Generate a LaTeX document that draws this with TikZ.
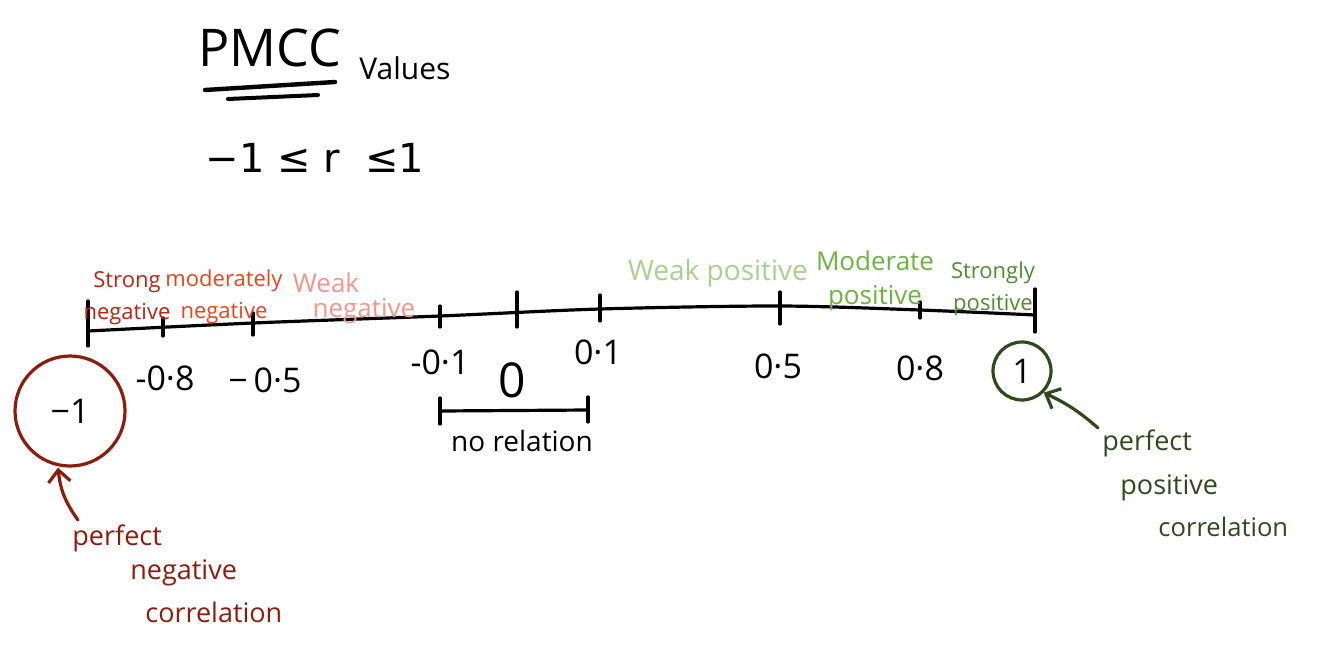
\documentclass[tikz,border=0pt]{standalone}
\usepackage{fontspec}
\setmainfont{Open Sans}
\newfontfamily\symfont{DejaVu Sans}
\usetikzlibrary{arrows.meta}
\definecolor{sneg}{HTML}{B8260F}
\definecolor{mneg}{HTML}{E8451C}
\definecolor{wneg}{HTML}{F2968A}
\definecolor{wpos}{HTML}{A9D18E}
\definecolor{mpos}{HTML}{6DB33F}
\definecolor{spos}{HTML}{4E8C2C}
\definecolor{pneg}{HTML}{8E1C0C}
\definecolor{ppos}{HTML}{2E4A1C}
\tikzset{
  ink/.style={line width=1.6pt, line cap=round, line join=round},
  lbl/.style={inner sep=0pt, align=center, font=\fontsize{11}{16}\selectfont},
  num/.style={inner sep=0pt, font=\fontsize{17}{17}\selectfont},
  big/.style={inner sep=0pt, anchor=west, font=\fontsize{13.5}{16}\selectfont},
  tip/.style={-{Straight Barb[length=6pt,width=11pt]}},
}
\begin{document}
\begin{tikzpicture}[x=0.5pt,y=-0.5pt]
\useasboundingbox (0,0) rectangle (1334,659);
% title
\node[inner sep=0pt, font=\fontsize{26}{26}\selectfont] (pmcc) at (270,48) {PMCC};
\node[inner sep=0pt, font=\fontsize{15}{15}\selectfont] (vals) at (405,68) {Values};
\coordinate (u1a) at (205,90); \coordinate (u1b) at (335,82);
\coordinate (u2a) at (228,99); \coordinate (u2b) at (318,95);
\draw[ink, line width=2.2pt] (u1a) -- (u1b);
\draw[ink, line width=2pt] (u2a) -- (u2b);
\node[inner sep=0pt, font=\symfont\fontsize{20}{20}\selectfont] (ineq) at (315,158) {−1 ≤ r \ ≤1};
% main line
\coordinate (t0) at (88,331);
\coordinate (t1) at (163,327);
\coordinate (t2) at (253,323);
\coordinate (t3) at (440,316);
\coordinate (t4) at (517,312);
\coordinate (t5) at (600,309);
\coordinate (t6) at (780,306);
\coordinate (t7) at (920,310);
\coordinate (t8) at (1035,315);
\draw[ink] plot[smooth] coordinates {(t0) (t2) (t3) (t5) (t6) (t7) (t8)};
\draw[ink] ([shift={(0,15)}]t0) -- ([shift={(0,-30)}]t0);
\draw[ink] ([shift={(0,9)}]t1) -- ([shift={(0,-9)}]t1);
\draw[ink] ([shift={(0,12)}]t2) -- ([shift={(0,-10)}]t2);
\draw[ink] ([shift={(0,11)}]t3) -- ([shift={(0,-10)}]t3);
\draw[ink] ([shift={(0,15)}]t4) -- ([shift={(0,-20)}]t4);
\draw[ink] ([shift={(0,12)}]t5) -- ([shift={(0,-14)}]t5);
\draw[ink] ([shift={(0,18)}]t6) -- ([shift={(0,-14)}]t6);
\draw[ink] ([shift={(0,8)}]t7) -- ([shift={(0,-8)}]t7);
\draw[ink] ([shift={(0,17)}]t8) -- ([shift={(0,-26)}]t8);
% category labels
\node[lbl, text=sneg] (sn) at (127,298) {Strong\\negative};
\node[lbl, text=mneg] (mn) at (224,297) {moderately\\negative};
\node[lbl, text=wneg, font=\fontsize{13}{14}\selectfont] (wn1) at (326,283) {Weak};
\node[lbl, text=wneg, font=\fontsize{13}{14}\selectfont] (wn2) at (364,311) {negative};
\node[lbl, text=wpos, font=\fontsize{14}{14}\selectfont] (wp) at (718,273) {Weak positive};
\node[lbl, text=mpos, font=\fontsize{13}{17}\selectfont] (mp) at (875,281) {Moderate\\positive};
\node[lbl, text=spos] (sp) at (993,289) {Strongly\\positive};
% numbers
\node[num] (n1) at (165,378) {-0·8};
\node[num] (n2) at (265,380) {−\,0·5};
\node[num] (n3) at (440,362) {-0·1};
\node[num, font=\fontsize{24}{24}\selectfont] (n4) at (512,380) {0};
\node[num] (n5) at (598,352) {0·1};
\node[num] (n6) at (778,366) {0·5};
\node[num] (n7) at (920,368) {0·8};
\node[num, circle, draw=ppos, line width=1.6pt, minimum size=29pt] (one) at (1022,371) {1};
\node[num, circle, draw=pneg, line width=1.6pt, minimum size=55pt] (mone) at (70,411) {−1};
% no relation bracket
\coordinate (b1) at (440,411);
\coordinate (b2) at (588,410);
\draw[ink] (b1) -- (b2);
\draw[ink] ([shift={(0,-13)}]b1) -- ([shift={(0,13)}]b1);
\draw[ink] ([shift={(0,-13)}]b2) -- ([shift={(0,12)}]b2);
\node[inner sep=0pt, font=\fontsize{14}{14}\selectfont] (nr) at (522,441) {no relation};
% annotations
\node[big, text=pneg] (pn1) at (72,538) {perfect};
\node[big, text=pneg] (pn2) at (130,573) {negative};
\node[big, text=pneg] (pn3) at (145,612) {correlation};
\node[big, text=ppos] (pp1) at (1102,443) {perfect};
\node[big, text=ppos] (pp2) at (1120,488) {positive};
\node[big, text=ppos, font=\fontsize{12.8}{14}\selectfont] (pp3) at (1158,527) {correlation};
\coordinate (ta) at (78,520);
\coordinate (tb) at (1098,428);
\draw[ink, pneg, tip] (ta) to[bend left=15] ([shift={(-12,0)}]mone.south);
\draw[ink, ppos, tip] (tb) to[bend right=8] (one.south east);
\end{tikzpicture}
\end{document}
